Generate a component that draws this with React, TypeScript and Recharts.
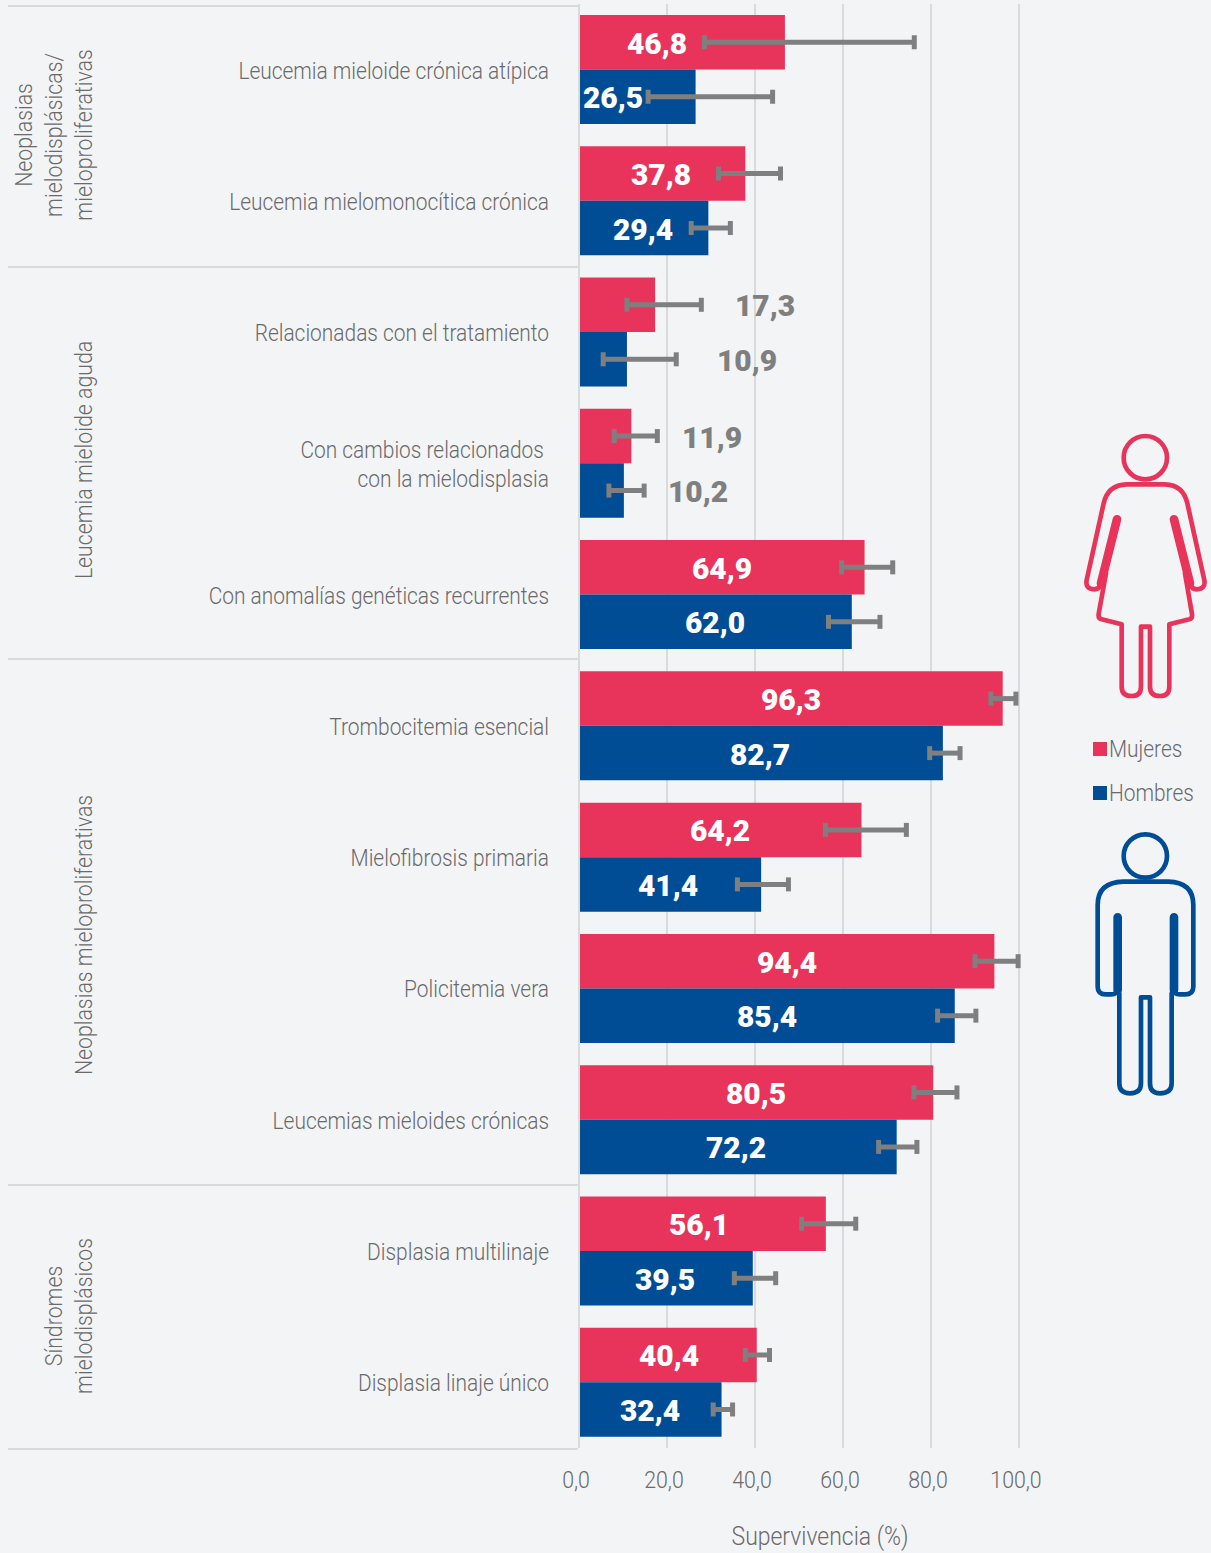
import React from 'react';
import { BarChart, Bar, XAxis, YAxis, CartesianGrid, ErrorBar, LabelList, Legend } from 'recharts';

const categories = [
  'Leucemia mieloide crónica atípica',
  'Leucemia mielomonocítica crónica',
  'Relacionadas con el tratamiento',
  'Con cambios relacionados \ncon la mielodisplasia',
  'Con anomalías genéticas recurrentes',
  'Trombocitemia esencial',
  'Mielofibrosis primaria',
  'Policitemia vera',
  'Leucemias mieloides crónicas',
  'Displasia multilinaje',
  'Displasia linaje único',
];
const womenValues = [46.8, 37.8, 17.3, 11.9, 64.9, 96.3, 64.2, 94.4, 80.5, 56.1, 40.4];
const menValues = [26.5, 29.4, 10.9, 10.2, 62.0, 82.7, 41.4, 85.4, 72.2, 39.5, 32.4];
const womenLow = [28.5, 31.7, 10.9, 8.0, 59.7, 93.6, 56.0, 90.0, 76.1, 50.6, 37.8];
const womenHigh = [76.2, 45.8, 27.8, 17.8, 71.3, 99.3, 74.4, 99.8, 85.9, 62.9, 43.3];
const menLow = [15.7, 25.5, 5.5, 6.8, 56.7, 79.7, 36.0, 81.5, 68.1, 35.3, 30.5];
const menHigh = [44.0, 34.4, 22.1, 14.8, 68.4, 86.6, 47.6, 90.2, 76.8, 44.7, 34.9];
const xTicks = [0, 20, 40, 60, 80, 100];
const groups = [
  { lines: ['Neoplasias', 'mielodisplásicas/', 'mieloproliferativas'], cy: 135 },
  { lines: ['Leucemia mieloide aguda'], cy: 460 },
  { lines: ['Neoplasias mieloproliferativas'], cy: 935 },
  { lines: ['Síndromes', 'mielodisplásicos'], cy: 1316 },
];
const separators = [6, 267, 659, 1185, 1449];

// label placement: distance in px from the bar start to the label centre
const womenLabelDx = [78, 82, 186, 133, 143, 212, 141, 208, 177, 120, 90];
const menLabelDx = [34, 64, 168, 119, 136, 181, 89, 188, 157, 86, 71];
const greyLabelRows = [2, 3];

const PINK = '#e8345b';
const BLUE = '#004d96';
const GREY = '#7f7f7f';
const TEXT = '#6a6a6a';
const LINE = '#d9dadb';
const BG = '#f3f4f6';
const FONT = 'Roboto, sans-serif';
const SQUEEZE = 0.89;

const rows = categories.map((name, i) => ({
  name,
  Mujeres: womenValues[i],
  Hombres: menValues[i],
  womenErr: [womenValues[i] - womenLow[i], womenHigh[i] - womenValues[i]],
  menErr: [menValues[i] - menLow[i], menHigh[i] - menValues[i]],
}));

const fmt = (v: number) => v.toFixed(1).replace('.', ',');

const CategoryTick = (p: any) => {
  const lines = String(p.payload.value).split('\n');
  const lh = 29;
  return (
    <text
      transform={`translate(${p.x},${p.y + 0.5}) scale(${SQUEEZE},1)`}
      textAnchor="end"
      fontFamily={FONT}
      fontWeight={300}
      fontSize={23.5}
      fill={TEXT}
      style={{ whiteSpace: 'pre' }}
    >
      {lines.map((l: string, i: number) => (
        <tspan key={i} x={0} y={(i - (lines.length - 1) / 2) * lh} dominantBaseline="central">
          {l}
        </tspan>
      ))}
    </text>
  );
};

const ValueTick = (p: any) => (
  <text
    transform={`translate(${p.x - 3},${p.y}) scale(0.87,1)`}
    textAnchor="middle"
    dominantBaseline="central"
    fontFamily={FONT}
    fontWeight={300}
    fontSize={24.5}
    fill={TEXT}
  >
    {fmt(p.payload.value)}
  </text>
);

const AxisTitle = (p: any) => {
  const v = p.viewBox;
  return (
    <text
      transform={`translate(${v.x + 241},${1537}) scale(0.9,1)`}
      textAnchor="middle"
      dominantBaseline="central"
      fontFamily={FONT}
      fontWeight={300}
      fontSize={25.5}
      fill={TEXT}
    >
      Supervivencia (%)
    </text>
  );
};

const barLabel = (offsets: number[]) => (p: any) => {
  const grey = greyLabelRows.includes(p.index);
  return (
    <text
      x={p.x + offsets[p.index]}
      y={p.y + p.height / 2 + 1}
      textAnchor="middle"
      dominantBaseline="central"
      fontFamily={FONT}
      fontWeight={900}
      fontSize={30}
      fill={grey ? GREY : '#ffffff'}
    >
      {fmt(p.value)}
    </text>
  );
};

const LegendBox = (p: any) => (
  <div style={{ fontFamily: FONT }}>
    {(p.payload || []).map((e: any) => (
      <div key={e.value} style={{ display: 'flex', alignItems: 'center', height: 44 }}>
        <span style={{ width: 14, height: 14, background: e.color, display: 'inline-block', marginRight: 2 }} />
        <span
          style={{
            fontSize: 24,
            fontWeight: 300,
            color: TEXT,
            display: 'inline-block',
            transform: 'scaleX(0.87)',
            transformOrigin: 'left center',
            whiteSpace: 'nowrap',
          }}
        >
          {e.value}
        </span>
      </div>
    ))}
  </div>
);

const Woman = () => (
  <g transform="translate(1070,420) scale(0.3333)" fill="none" stroke={PINK} strokeWidth={14} strokeLinejoin="round" strokeLinecap="round">
    <circle cx={226} cy={113} r={65} />
    <path d="M170 193 H285 Q340 195 352 250 L403 480 Q408 507 380 508 Q366 508 362 495 M345 460 L366 582 Q368 595 358 598 L298 613 V800 Q298 828 270 828 Q240 828 240 800 V620 H213 V800 Q213 828 185 828 Q155 828 155 800 V613 L95 598 Q84 595 86 582 L108 460 M91 495 Q87 508 73 508 Q45 507 50 480 L101 250 Q113 195 170 193" />
    <path d="M312 298 L360 490 M141 298 L93 490" strokeWidth={26} />
  </g>
);

const Man = () => (
  <g transform="translate(1070,720) scale(0.3333)" fill="none" stroke={BLUE} strokeWidth={14} strokeLinejoin="round" strokeLinecap="round">
    <circle cx={226} cy={408} r={65} />
    <path d="M160 485 H295 Q370 487 370 555 V800 Q370 823 345 823 H330 Q312 823 312 810 M305 820 V1090 Q305 1120 270 1120 Q240 1120 240 1090 V832 H213 V1090 Q213 1120 180 1120 Q148 1120 148 1090 V820 M141 810 Q141 823 123 823 H108 Q83 823 83 800 V555 Q83 487 160 485" />
    <path d="M312 592 V810 M143 592 V810" strokeWidth={26} />
  </g>
);

export default function App() {
  return (
    <div style={{ position: 'absolute', left: 0, top: 0, width: 1211, height: 1553, background: BG, overflow: 'hidden' }}>
      <svg width={1211} height={1553} style={{ position: 'absolute', left: 0, top: 0 }}>
        {separators.map((y) => (
          <line key={y} x1={8} x2={578} y1={y} y2={y} stroke={LINE} strokeWidth={2} />
        ))}
        {groups.map((g) =>
          g.lines.map((l, i) => (
            <text
              key={l}
              transform={`translate(${83.5 - (g.lines.length - 1 - i) * 30},${g.cy}) rotate(-90) scale(0.905,1)`}
              textAnchor="middle"
              dominantBaseline="central"
              fontFamily={FONT}
              fontWeight={300}
              fontSize={23.5}
              fill={TEXT}
            >
              {l}
            </text>
          )),
        )}
        <Woman />
        <Man />
      </svg>
      <div style={{ position: 'absolute', left: 0, top: 0 }}>
        <BarChart
          width={1211}
          height={1553}
          data={rows}
          layout="vertical"
          barGap={0}
          barSize={54.5}
          margin={{ top: 4, right: 192, bottom: 0, left: 0 }}
        >
          <CartesianGrid horizontal={false} stroke={LINE} strokeWidth={2} syncWithTicks />
          <XAxis
            type="number"
            dataKey={undefined}
            domain={[0, 100]}
            ticks={xTicks}
            height={105}
            axisLine={false}
            tickLine={false}
            tickMargin={26}
            tick={<ValueTick />}
            label={<AxisTitle />}
          />
          <YAxis
            type="category"
            dataKey="name"
            width={579}
            axisLine={{ stroke: LINE, strokeWidth: 2 }}
            tickLine={false}
            tickMargin={24}
            interval={0}
            tick={<CategoryTick />}
          />
          <Legend
            layout="vertical"
            align="center"
            verticalAlign="middle"
            itemSorter={null}
            wrapperStyle={{ position: 'absolute', left: 1093, top: 727, width: 118, height: 88 }}
            content={<LegendBox />}
          />
          <Bar dataKey="Mujeres" fill={PINK} isAnimationActive={false}>
            <ErrorBar dataKey="womenErr" direction="x" width={7} strokeWidth={5} stroke={GREY} isAnimationActive={false} />
            <LabelList dataKey="Mujeres" content={barLabel(womenLabelDx)} />
          </Bar>
          <Bar dataKey="Hombres" fill={BLUE} isAnimationActive={false}>
            <ErrorBar dataKey="menErr" direction="x" width={7} strokeWidth={5} stroke={GREY} isAnimationActive={false} />
            <LabelList dataKey="Hombres" content={barLabel(menLabelDx)} />
          </Bar>
        </BarChart>
      </div>
    </div>
  );
}
